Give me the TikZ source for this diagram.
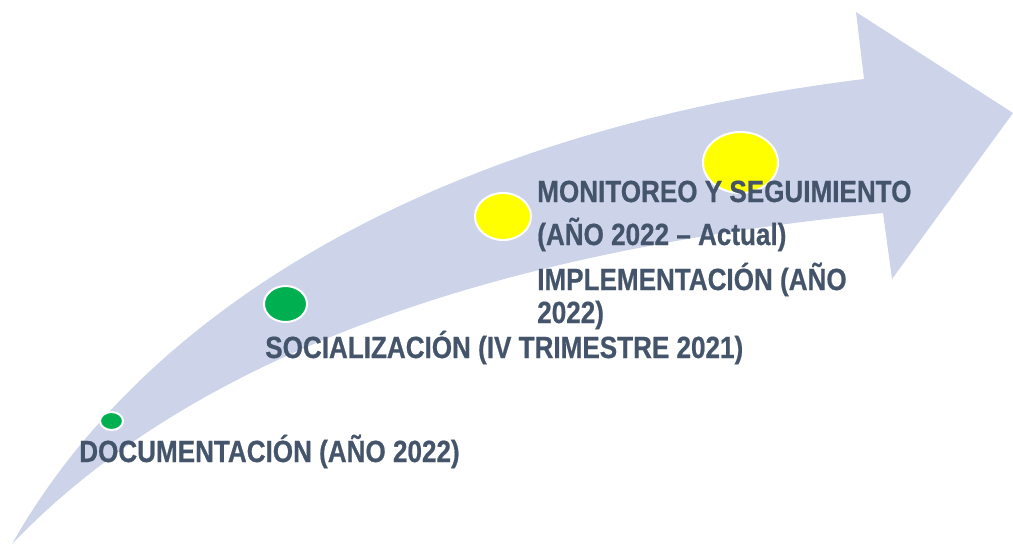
\documentclass[tikz,border=0pt]{standalone}
\usepackage{fontspec}
\setmainfont{Liberation Sans}
\newfontfamily\labfont[FakeStretch=0.85,FakeBold=0.6]{Liberation Sans Bold}
\usetikzlibrary{shapes.geometric}
\definecolor{arrowc}{RGB}{205,212,234}
\definecolor{txtc}{HTML}{44546A}
\definecolor{greenc}{HTML}{00B050}
\definecolor{yellowc}{HTML}{FFFF00}
\begin{document}
\begin{tikzpicture}[x=0.75pt,y=-0.75pt,
  dot/.style={ellipse,draw=white,line width=1.5pt,inner sep=0pt},
  gdot/.style={dot,fill=greenc},
  ydot/.style={dot,fill=yellowc},
  lab/.style={anchor=base west,inner sep=0pt,text=txtc,font=\labfont\fontsize{23pt}{27pt}\selectfont}]
\useasboundingbox (0,0) rectangle (1013,544);
% big curved arrow
\fill[arrowc] (12,544) .. controls (150,300) and (450,130) .. (864,79)
  -- (856,12) -- (1013,113) -- (892,279) -- (883,213)
  .. controls (400,260) and (150,400) .. (12,544) -- cycle;
% dots
\node[gdot,minimum width=17.25pt,minimum height=13.5pt] (d1) at (111.5,421) {};
\node[gdot,minimum width=32.25pt,minimum height=27pt] (d2) at (285.5,304) {};
\node[ydot,minimum width=42pt,minimum height=35.25pt] (d3) at (503,216.5) {};
\node[ydot,minimum width=56.25pt,minimum height=45.75pt] (d4) at (740.5,162.5) {};
% labels
\node[lab] (doc) at (79,462) {DOCUMENTACIÓN (AÑO 2022)};
\node[lab] (soc) at (265,358) {SOCIALIZACIÓN (IV TRIMESTRE 2021)};
\node[lab] (imp1) at (537,290) {IMPLEMENTACIÓN (AÑO};
\node[lab] (imp2) at (537,323) {2022)};
\node[lab] (mon1) at (537,202) {MONITOREO Y SEGUIMIENTO};
\node[lab] (mon2) at (537,245) {(AÑO 2022 – Actual)};
\end{tikzpicture}
\end{document}
